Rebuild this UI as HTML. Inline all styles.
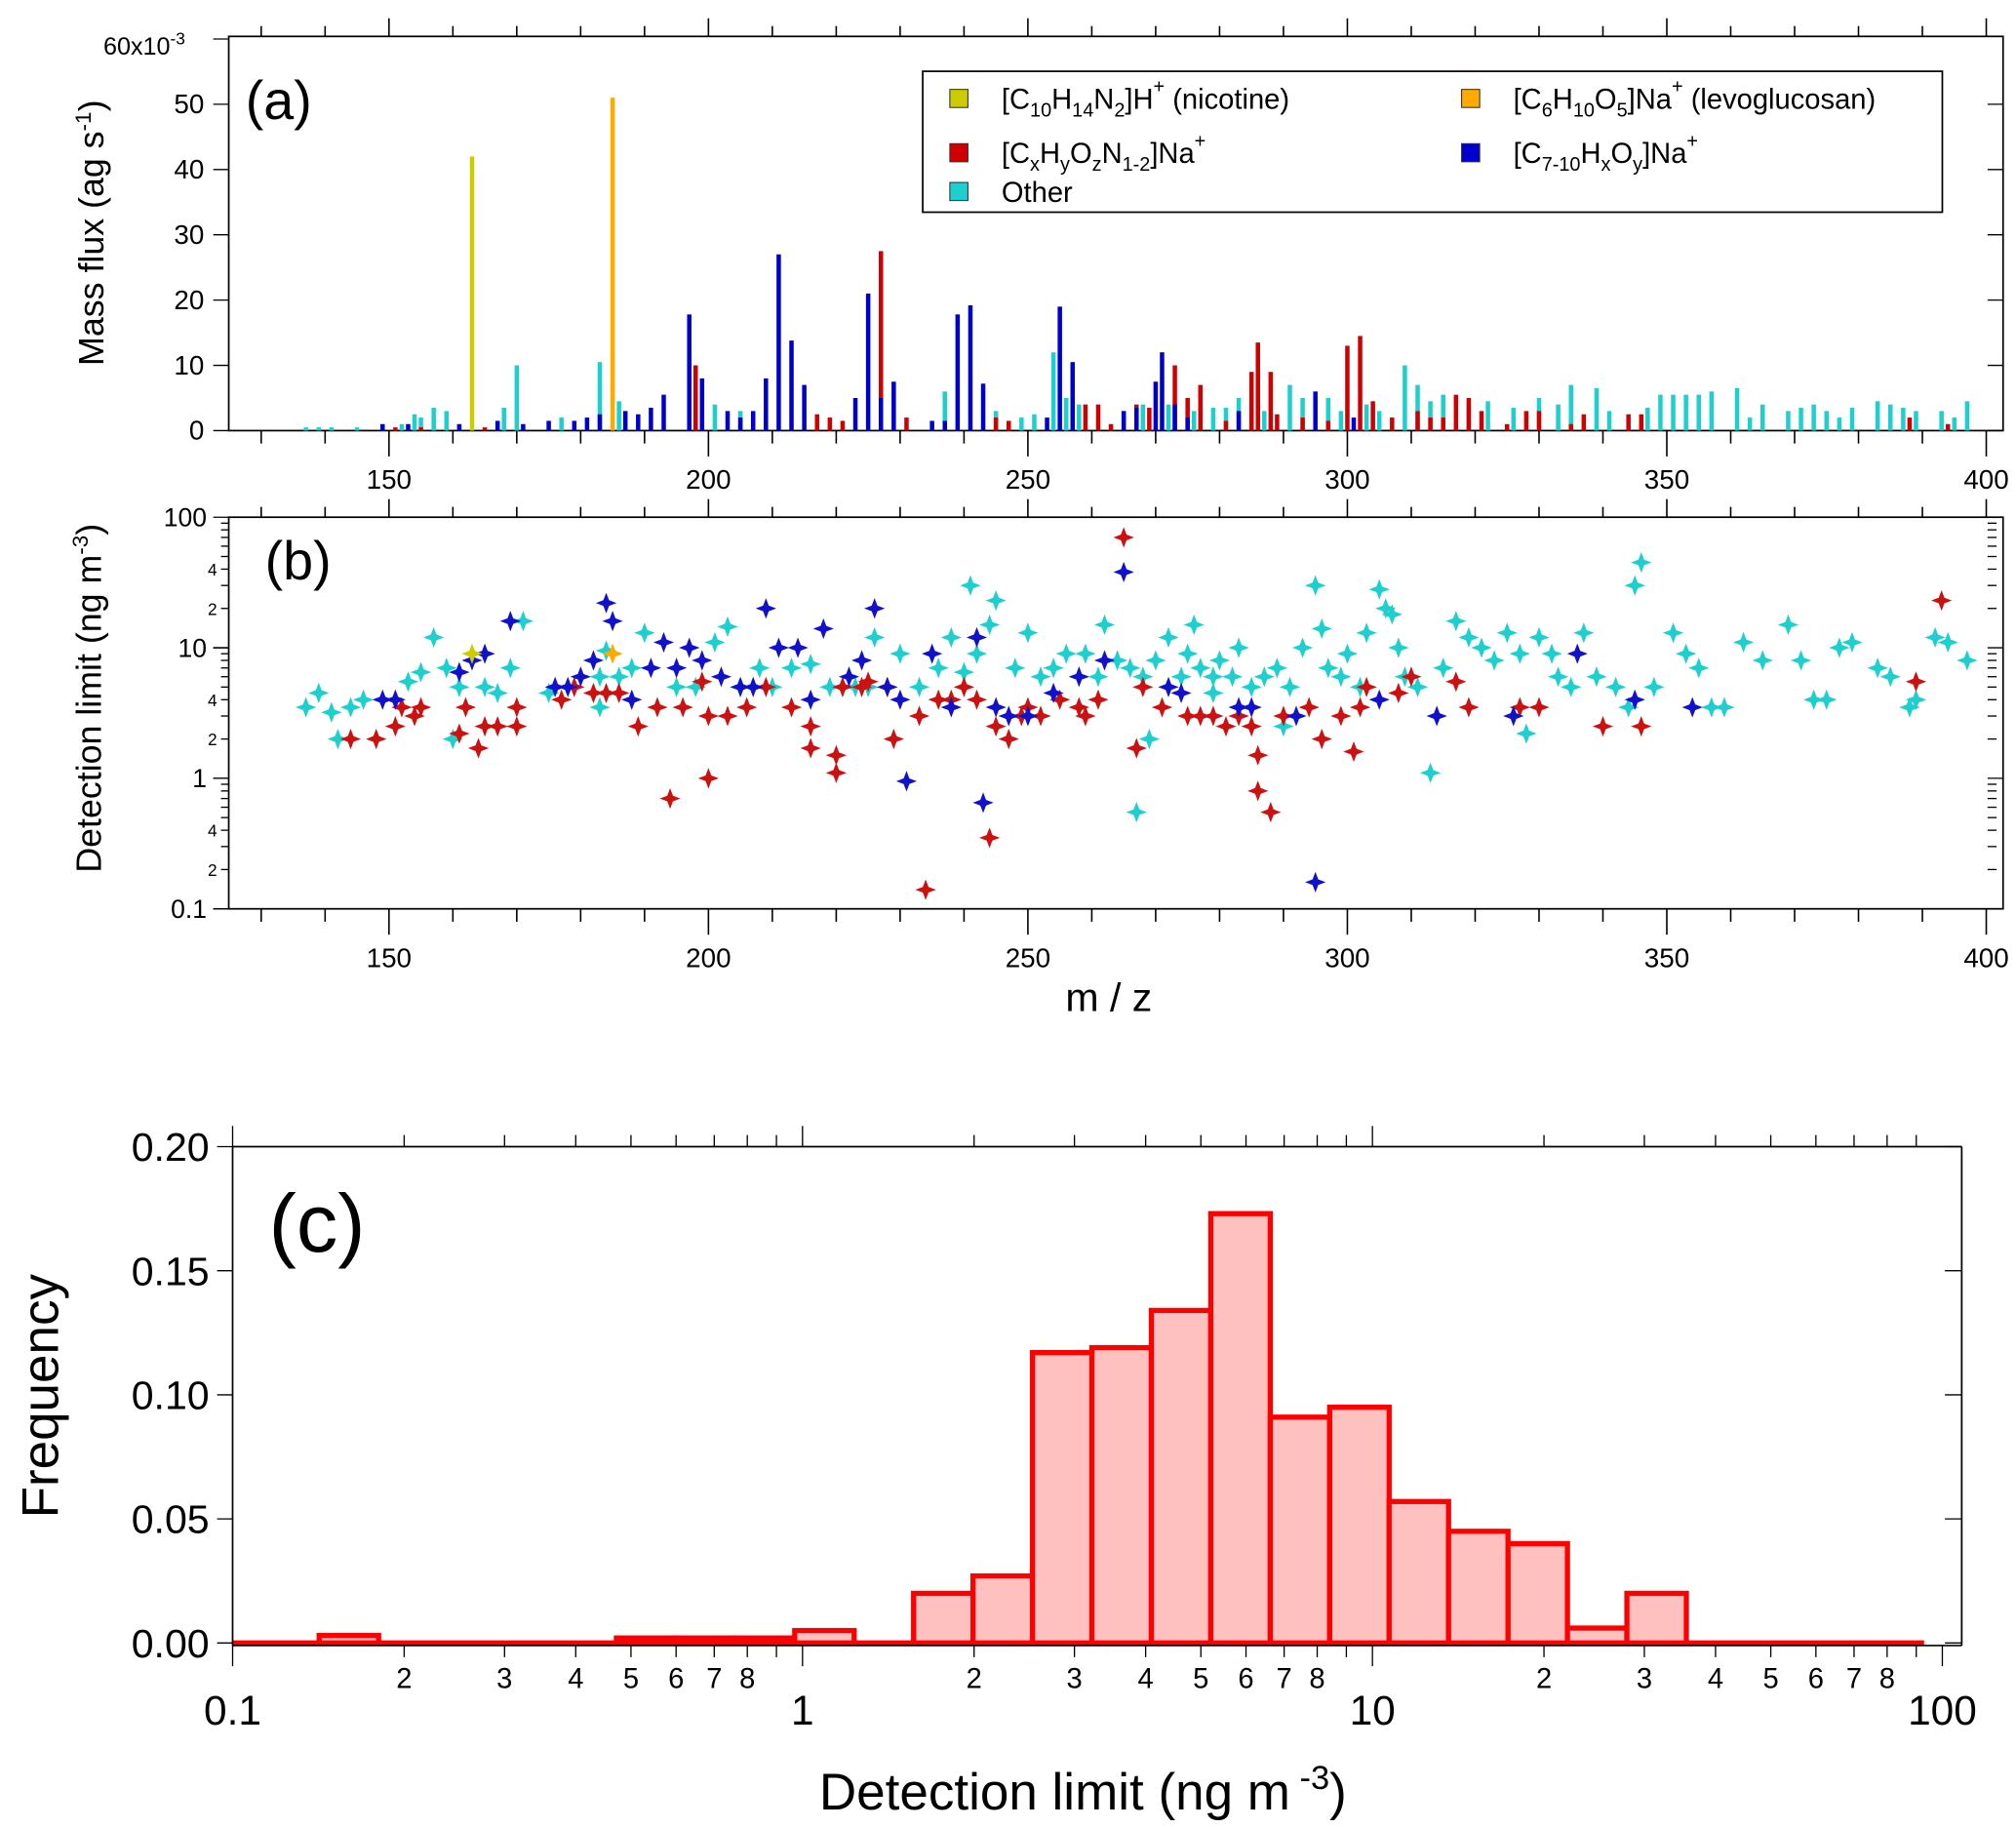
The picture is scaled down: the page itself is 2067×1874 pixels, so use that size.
<!DOCTYPE html>
<html><head><meta charset="utf-8"><style>
html,body{margin:0;padding:0;background:#fff}
svg{display:block;font-family:"Liberation Sans",Arial,sans-serif}
</style></head><body>
<svg id="fig" width="2067" height="1874" viewBox="0 0 1560 1414" xmlns="http://www.w3.org/2000/svg">
<g id="pa"></g>
<g id="pb"></g>
<g id="pc"></g>
</svg>
<script>
// ---- Panel (a) data: [m/z, mass flux x1e-3]
const nicotineBars = [[163,42]];
const levoBars = [[185,51]];
const blueBars = [[149,1],[153,1],[161,1],[167,1.5],[171,1],[175,1.5],[179,1.5],[181,2],[183,2.5],[187,3],[189,2.5],[191,3.5],[193,5.5],[197,17.8],[199,8],[203,3],[205,2],[207,3],[209,8],[211,27],[213,13.8],[215,7],[223,5],[225,21],[227,5],[229,7.5],[235,1.5],[237,1.5],[239,17.8],[241,19.2],[243,7.2],[253,2],[255,19],[257,10.5],[265,3],[267,3.5],[270,7.5],[271,12],[273,4],[275,2],[283,3],[295,6],[301,2]];
const redBars = [[151,0.5],[155,0.5],[165,0.5],[198,10],[205,1],[217,2.5],[219,2],[221,1.5],[227,27.5],[231,2],[245,2],[247,1.5],[257,6.5],[259,4],[261,4],[263,1],[267,4],[269,3.5],[273,10],[275,5],[277,7],[281,1.5],[285,9],[286,13.5],[288,9],[289,2.5],[293,2],[297,1.5],[300,13],[302,14.5],[304,4.5],[307,2],[311,3],[313,2],[315,2],[317,5.5],[319,5],[321,3],[325,1],[328,3],[330,3],[335,1],[337,2.5],[344,2.5],[346,2.5],[388,2],[394,1]];
const cyanBars = [[137,0.5],[139,0.5],[141,0.5],[145,0.5],[152,1],[154,2.5],[155,2],[157,3.5],[159,3],[168,3.5],[170,10],[177,2],[183,10.5],[186,4.5],[201,4],[205,3],[209,2],[237,6],[245,3],[249,2],[251,2.5],[254,12],[256,5],[258,4],[265,3],[268,4],[272,4],[276,3],[279,3.5],[281,3.5],[283,5],[285,3],[287,3],[291,7],[293,5],[297,5],[299,3],[303,4],[305,3],[309,10],[311,7],[313,4.5],[315,5.5],[319,4],[322,4.5],[326,3.5],[330,5],[333,4],[335,7],[339,6.5],[341,3],[347,3.5],[349,5.5],[351,5.5],[353,5.5],[355,5.5],[357,6],[361,6.5],[363,2],[365,4],[369,3],[371,3.5],[373,4],[375,3],[377,2],[379,3.5],[383,4.5],[385,4],[387,3.5],[389,3],[393,3],[395,2],[397,4.5]];
const aYTicks = [0,10,20,30,40,50];
const mzTicks = [150,200,250,300,350,400];

// ---- Panel (b) data: [m/z, detection limit ng m-3]
const cyanPts = [[137,3.5],[139,4.5],[141,3.2],[142,2],[144,3.5],[146,4],[153,5.5],[155,6.5],[157,12],[159,7],[160,2],[161,5],[165,5],[167,4.5],[169,7],[171,16],[175,4.5],[183,6],[184,9.5],[186,6],[188,7],[190,13],[195,5],[198,5],[201,11],[203,14.5],[205,5],[208,7],[213,7],[216,7.5],[219,5],[221,5],[223,5],[226,12],[230,9],[233,5],[236,7],[238,12],[240,6.5],[241,30],[242,9],[244,15],[245,23],[248,7],[250,13],[252,6],[254,7],[256,9],[258,6],[259,9],[262,15],[264,8],[266,7],[267,0.55],[268,6],[269,2],[270,8],[272,12],[274,6],[275,9],[276,15],[277,7],[279,6],[280,8],[282,6],[283,10],[285,5],[287,6],[289,7],[291,5],[293,10],[295,30],[296,14],[297,7],[299,6],[300,9],[302,5],[303,13],[305,28],[306,20],[307,18],[308,10],[309,6],[311,5],[313,1.1],[315,7],[317,16],[319,12],[321,10],[323,8],[325,13],[327,9],[328,2.2],[330,12],[332,9],[333,6],[335,5],[337,13],[339,6],[342,5],[344,3.5],[345,30],[346,45],[348,5],[351,13],[353,9],[355,7],[357,3.5],[359,3.5],[362,11],[365,8],[369,15],[371,8],[373,4],[375,4],[377,10],[379,11],[383,7],[385,6],[388,3.5],[389,4],[392,12],[394,11],[397,8],[183,3.5],[290,2.5],[279,4.5],[261,6],[225,5],[210,5]];
const redPts = [[144,2],[148,2],[151,2.5],[152,3.5],[154,3],[155,3.5],[161,2.2],[162,3.5],[164,1.7],[165,2.5],[167,2.5],[170,2.5],[170,3.5],[177,4],[179,5],[182,4.5],[184,4.5],[186,4.5],[189,2.5],[192,3.5],[194,0.7],[196,3.5],[199,5.5],[200,1],[200,3],[203,3],[206,3.5],[209,5],[213,3.5],[216,1.7],[216,2.5],[220,1.1],[220,1.5],[221,5],[224,5],[225,5.5],[228,5],[229,2],[233,3],[236,4],[238,4],[240,5],[242,4],[244,0.35],[245,2.5],[247,2],[249,3],[252,3],[255,4],[258,3.5],[259,3],[261,4],[265,70],[267,1.7],[268,5],[271,3.5],[275,3],[277,3],[279,3],[281,2.5],[283,3],[285,2.5],[286,1.5],[286,0.8],[288,0.55],[290,3],[294,3.5],[296,2],[299,3],[301,1.6],[302,3.5],[303,5],[308,4.5],[310,6],[317,5.5],[319,3.5],[327,3.5],[330,3.5],[340,2.5],[346,2.5],[393,23],[389,5.5],[234,0.14],[250,3.5]];
const bluePts = [[149,4],[151,4],[161,6.5],[163,8],[165,9],[169,16],[176,5],[178,5],[180,6],[182,8],[184,22],[185,16],[188,4],[191,7],[193,11],[195,7],[197,10],[199,8],[202,6],[205,5],[207,5],[209,20],[211,10],[214,10],[216,4],[218,14],[222,6],[224,8],[226,20],[228,5],[230,4],[231,0.95],[235,9],[238,3.5],[242,12],[243,0.65],[245,3.5],[247,3],[250,3],[254,4.5],[258,6],[262,8],[265,38],[272,5],[274,4.5],[283,3.5],[285,3.5],[292,3],[295,0.16],[305,4],[314,3],[336,9],[345,4],[354,3.5],[326,3]];
const yellowPts = [[163,9]];
const orangePts = [[185,9]];

// ---- Panel (c) data: histogram frequencies per log bin
const histFreq = [0,0,0.003,0,0,0,0,0.002,0.002,0.002,0.005,0,0.020,0.027,0.117,0.119,0.134,0.173,0.091,0.095,0.057,0.045,0.040,0.006,0.020,0,0,0,0];
const cYTicks = [0,0.05,0.10,0.15,0.20];
const cXMajor = [0.1,1,10,100];

const NS="http://www.w3.org/2000/svg";
function mk(parent,tag,attrs,text){const e=document.createElementNS(NS,tag);for(const k in attrs)e.setAttribute(k,attrs[k]);if(text!==undefined)e.textContent=text;parent.appendChild(e);return e;}
const pa=document.getElementById('pa'),pb=document.getElementById('pb'),pc=document.getElementById('pc');

const xm = v => 301 + (v-150)*4.944;
const ya = v => 333 - v*5.05;
const yb = v => 703 - (Math.log10(v)+1)*101;

function mzAxis(g,top,bot,labelY){
  let f=mk(g,'rect',{x:177,y:top,width:1373,height:bot-top,fill:'none',stroke:'#000','stroke-width':1.3});
  
  for(let v=130;v<=400;v+=10){
    const x=xm(v),maj=v%50===0;
    mk(g,'line',{x1:x,x2:x,y1:bot,y2:bot+(maj?20:10),stroke:'#000','stroke-width':1.2});
    mk(g,'line',{x1:x,x2:x,y1:top,y2:top-(maj?14:8),stroke:'#000','stroke-width':1.2});
  }
  mzTicks.forEach(v=>{const t=mk(g,'text',{x:xm(v),y:labelY,'font-size':21,'text-anchor':'middle'},String(v));
    });
}

// ---- Panel a
mzAxis(pa,28,333,378);
aYTicks.forEach(v=>{const y=ya(v);mk(pa,'line',{x1:165,x2:177,y1:y,y2:y,stroke:'#000'});mk(pa,'line',{x1:1538,x2:1550,y1:y,y2:y,stroke:'#000'});
  const t=mk(pa,'text',{x:158,y:y+7,'font-size':21,'text-anchor':'end'},String(v));});
mk(pa,'line',{x1:165,x2:177,y1:30,y2:30,stroke:'#000'});
{const t=mk(pa,'text',{x:80,y:42,'font-size':19},'60x10');mk(t,'tspan',{dy:-8,'font-size':13},'-3');}
{const t=mk(pa,'text',{x:0,y:0,'font-size':27,transform:'translate(80,180) rotate(-90)','text-anchor':'middle'},'Mass flux (ag s');mk(t,'tspan',{dy:-10,'font-size':17},'-1');mk(t,'tspan',{dy:10},')');}
{const t=mk(pa,'text',{x:190,y:92,'font-size':42},'(a)');}
function bars(arr,color,name){arr.forEach(d=>{const x=xm(d[0]),y=ya(d[1]);const r=mk(pa,'rect',{x:x-1.7,y:y,width:3.4,height:333-y,fill:color});
  });}
bars(cyanBars,'#1ecfcf','bar-other');bars(redBars,'#d10000','bar-cxhyoznna');bars(blueBars,'#0000cc','bar-c7-10hxoyna');
bars(nicotineBars,'#cccc00','bar-nicotine');bars(levoBars,'#ffaa00','bar-levoglucosan');
{const lg=mk(pa,'g',{});
mk(lg,'rect',{x:714,y:55,width:789,height:109,fill:'#fff',stroke:'#000','stroke-width':1.3});
const ent=[[742,76,'#cccc00'],[1138,76,'#ffaa00'],[742,118,'#d10000'],[1138,118,'#0000cc'],[742,148,'#1ecfcf']];
ent.forEach(e=>{const s=mk(lg,'rect',{x:e[0]-7,y:e[1]-7,width:14,height:14,fill:e[2],stroke:'#333','stroke-width':0.8});});
function lt(x,y,parts){const t=mk(lg,'text',{x:x,y:y,'font-size':22});parts.forEach(p=>{const a={};if(p[1]==='sub'){a.dy=6;a['font-size']=15;}else if(p[1]==='sup'){a.dy=-12;a['font-size']=15;}mk(t,'tspan',a,p[0]);if(p[1]==='sub')mk(t,'tspan',{dy:-6},'\u200b');if(p[1]==='sup')mk(t,'tspan',{dy:12},'\u200b');});}
lt(775,84,[['[C'],['10','sub'],['H'],['14','sub'],['N'],['2','sub'],[']H'],['+','sup'],[' (nicotine)']]);
lt(1171,84,[['[C'],['6','sub'],['H'],['10','sub'],['O'],['5','sub'],[']Na'],['+','sup'],[' (levoglucosan)']]);
lt(775,126,[['[C'],['x','sub'],['H'],['y','sub'],['O'],['z','sub'],['N'],['1-2','sub'],[']Na'],['+','sup']]);
lt(1171,126,[['[C'],['7-10','sub'],['H'],['x','sub'],['O'],['y','sub'],[']Na'],['+','sup']]);
lt(775,156,[['Other']]);}

// ---- Panel b
mzAxis(pb,400,703,748);
for(let d=-1;d<=1;d++){for(let k=1;k<10;k++){const v=k*Math.pow(10,d),y=yb(v);
  mk(pb,'line',{x1:k===1?165:171,x2:177,y1:y,y2:y,stroke:'#000'});mk(pb,'line',{x1:1538,x2:k===1?1550:1545,y1:y,y2:y,stroke:'#000'});
  if(k===2||k===4){const t=mk(pb,'text',{x:168,y:y+5,'font-size':13,'text-anchor':'end'},String(k));}}}
[[0.1,'0.1'],[1,'1'],[10,'10'],[100,'100']].forEach(p=>{const y=yb(p[0]);mk(pb,'line',{x1:165,x2:177,y1:y,y2:y,stroke:'#000'});const t=mk(pb,'text',{x:160,y:y+7,'font-size':20,'text-anchor':'end'},p[1]);});
{const t=mk(pb,'text',{x:0,y:0,'font-size':27,transform:'translate(78,540) rotate(-90)','text-anchor':'middle'},'Detection limit (ng m');mk(t,'tspan',{dy:-10,'font-size':17},'-3');mk(t,'tspan',{dy:10},')');}
{const t=mk(pb,'text',{x:205,y:448,'font-size':42},'(b)');}
{const t=mk(pb,'text',{x:858,y:782,'font-size':31,'text-anchor':'middle'},'m / z');}
function star(x,y){const r=8,w=2.2;return `M${x},${y-r} L${x+w},${y-w} L${x+r},${y} L${x+w},${y+w} L${x},${y+r} L${x-w},${y+w} L${x-r},${y} L${x-w},${y-w} Z`;}
function pts(arr,color,name){arr.forEach(d=>{const p=mk(pb,'path',{d:star(xm(d[0]),yb(d[1])),fill:color});});}
pts(cyanPts,'#1ecfcf','point-other');pts(redPts,'#cc1111','point-cxhyoznna');pts(bluePts,'#1111cc','point-c7-10hxoyna');pts(yellowPts,'#cccc00','point-nicotine');pts(orangePts,'#ffaa00','point-levoglucosan');

// ---- Panel c
const xc = v => 180 + (Math.log10(v)+1)*441;
const yc = v => 1271 - v*1920;
const binStart=-1.0567, binW=0.1043;
{const bl=mk(pc,'line',{x1:180,x2:xc(Math.pow(10,binStart+histFreq.length*binW)),y1:1271,y2:1271,stroke:'#ff0000','stroke-width':4});
 }
histFreq.forEach((f,i)=>{if(f<=0)return;const x0=xc(Math.pow(10,binStart+i*binW)),x1=xc(Math.pow(10,binStart+(i+1)*binW));const L=Math.max(x0,180);
  const r=mk(pc,'rect',{x:L,y:yc(f),width:x1-L,height:1271-yc(f),fill:'#ffc0c0',stroke:'#ff0000','stroke-width':4});
  });
mk(pc,'line',{x1:180,x2:180,y1:887,y2:1273,stroke:'#000','stroke-width':1.3});
mk(pc,'line',{x1:1518,x2:1518,y1:887,y2:1273,stroke:'#000','stroke-width':1.3});
mk(pc,'line',{x1:180,x2:1518,y1:887,y2:887,stroke:'#000','stroke-width':1.3});
mk(pc,'line',{x1:180,x2:1518,y1:1273,y2:1273,stroke:'#000','stroke-width':1.3});
cYTicks.forEach(v=>{const y=yc(v);mk(pc,'line',{x1:168,x2:180,y1:y,y2:y,stroke:'#000'});mk(pc,'line',{x1:1505,x2:1518,y1:y,y2:y,stroke:'#000'});
  const t=mk(pc,'text',{x:162,y:y+11,'font-size':31,'text-anchor':'end'},v.toFixed(2));});
for(let d=-1;d<=1;d++){for(let k=1;k<10;k++){const v=k*Math.pow(10,d),x=xc(v);
  mk(pc,'line',{x1:x,x2:x,y1:1273,y2:1273+(k===1?16:9),stroke:'#000'});mk(pc,'line',{x1:x,x2:x,y1:887,y2:887-(k===1?16:9),stroke:'#000'});
  if(k>1&&k<9){const t=mk(pc,'text',{x:x,y:1306,'font-size':22,'text-anchor':'middle'},String(k));}}}
mk(pc,'line',{x1:xc(100),x2:xc(100),y1:1273,y2:1289,stroke:'#000'});
cXMajor.forEach(v=>{const t=mk(pc,'text',{x:xc(v),y:1334,'font-size':32,'text-anchor':'middle'},String(v));});
{const t=mk(pc,'text',{x:0,y:0,'font-size':40,transform:'translate(45,1080) rotate(-90)','text-anchor':'middle'},'Frequency');}
{const t=mk(pc,'text',{x:838,y:1400,'font-size':40,'text-anchor':'middle'},'Detection limit (ng m');mk(t,'tspan',{dy:-16,'font-size':26},' -3');mk(t,'tspan',{dy:16},')');}
{const t=mk(pc,'text',{x:208,y:968,'font-size':64},'(c)');}
</script>
</body></html>
